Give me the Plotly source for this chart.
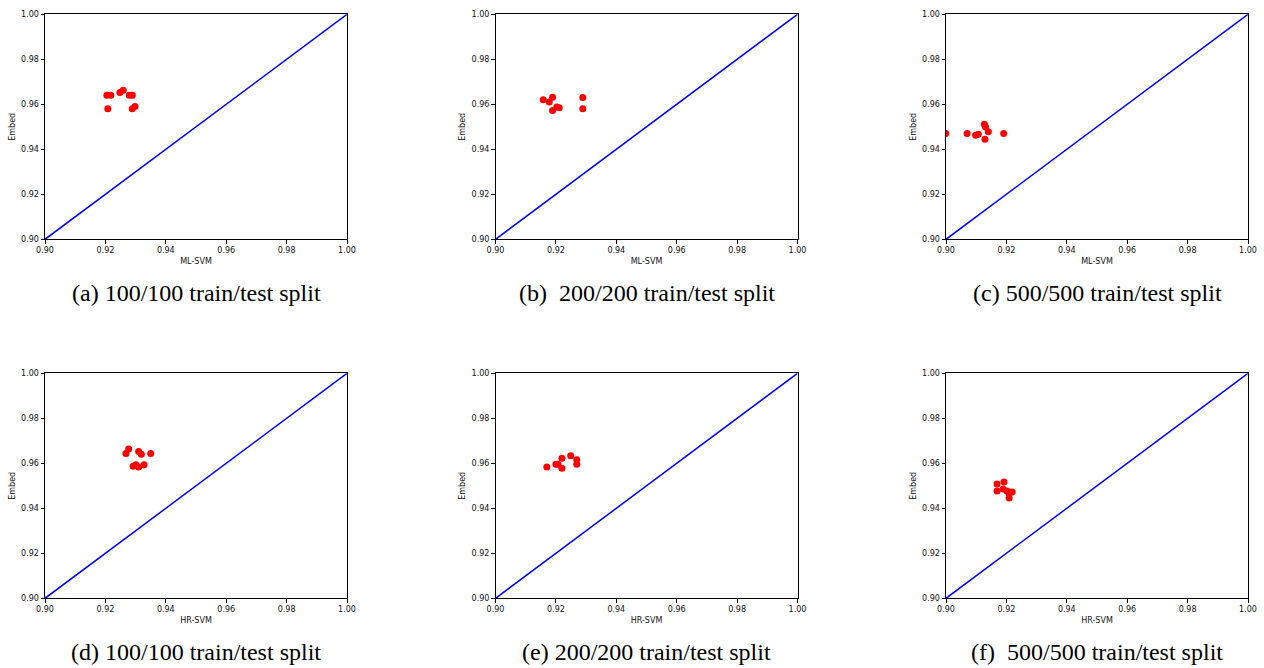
import plotly.graph_objects as go

# ---- data ----
a_x = [0.9205, 0.9218, 0.9248, 0.9259, 0.9279, 0.9289, 0.9208, 0.9289, 0.9298]
a_y = [0.964, 0.964, 0.9652, 0.9662, 0.964, 0.964, 0.958, 0.958, 0.959]

b_x = [0.9158, 0.9178, 0.9189, 0.9189, 0.9203, 0.9211, 0.9289, 0.9289]
b_y = [0.962, 0.961, 0.9631, 0.9572, 0.9588, 0.9585, 0.963, 0.958]

c_x = [0.8999, 0.907, 0.9098, 0.9107, 0.9127, 0.9131, 0.914, 0.9129, 0.9191]
c_y = [0.947, 0.947, 0.9462, 0.9467, 0.9511, 0.9499, 0.9478, 0.9445, 0.947]

d_x = [0.9277, 0.9268, 0.931, 0.9319, 0.935, 0.9292, 0.9301, 0.931, 0.9328]
d_y = [0.9664, 0.9643, 0.9652, 0.964, 0.9643, 0.9587, 0.9593, 0.9584, 0.9593]

e_x = [0.917, 0.920, 0.9207, 0.922, 0.922, 0.9249, 0.9269, 0.9269]
e_y = [0.9584, 0.9596, 0.9596, 0.9622, 0.9578, 0.9634, 0.9616, 0.9596]

f_x = [0.9169, 0.9169, 0.9192, 0.9189, 0.9202, 0.9209, 0.9209, 0.9219]
f_y = [0.9508, 0.9477, 0.9517, 0.9486, 0.9477, 0.9464, 0.9446, 0.9472]

diag = [0.9, 1.0]
ticks = [0.90, 0.92, 0.94, 0.96, 0.98, 1.00]
tick_text = ["0.90", "0.92", "0.94", "0.96", "0.98", "1.00"]

panels = [
    (a_x, a_y, "ML-SVM", "(a) 100/100 train/test split"),
    (b_x, b_y, "ML-SVM", "(b)  200/200 train/test split"),
    (c_x, c_y, "ML-SVM", "(c) 500/500 train/test split"),
    (d_x, d_y, "HR-SVM", "(d) 100/100 train/test split"),
    (e_x, e_y, "HR-SVM", "(e) 200/200 train/test split"),
    (f_x, f_y, "HR-SVM", "(f)  500/500 train/test split"),
]

W, H = 1264, 668
lefts = [45, 495.5, 946]
pw = 302
tops = [14.3, 373.3]
ph = 225
cap_y = [293, 652]

fig = go.Figure()
layout = dict(
    width=W, height=H, margin=dict(l=0, r=0, t=0, b=0, autoexpand=False),
    paper_bgcolor="white", plot_bgcolor="white", showlegend=False,
)
annotations = []
for i, (xs, ys, xt, cap) in enumerate(panels):
    r, c = divmod(i, 3)
    n = i + 1
    xa = "x" if n == 1 else f"x{n}"
    ya = "y" if n == 1 else f"y{n}"
    x0 = lefts[c] / W
    x1 = (lefts[c] + pw) / W
    y1 = 1 - tops[r] / H
    y0 = 1 - (tops[r] + ph) / H
    axis_common = dict(
        range=[0.9, 1.0], tickvals=ticks, ticktext=tick_text,
        showgrid=False, zeroline=False, showline=True, mirror=True,
        linecolor="black", linewidth=1, ticks="outside", ticklen=3.5,
        tickwidth=1, tickcolor="black", automargin=False,
        tickfont=dict(family="DejaVu Sans", size=8, color="#111"),
        fixedrange=True,
    )
    layout[f"xaxis{'' if n == 1 else n}"] = dict(
        axis_common, domain=[x0, x1], anchor=ya,
        title=dict(text=xt, standoff=3,
                   font=dict(family="DejaVu Sans", size=8, color="#111")),
    )
    layout[f"yaxis{'' if n == 1 else n}"] = dict(
        axis_common, domain=[y0, y1], anchor=xa,
        title=dict(text="Embed", standoff=4,
                   font=dict(family="DejaVu Sans", size=8, color="#111")),
    )
    fig.add_trace(go.Scatter(x=diag, y=diag, mode="lines",
                             line=dict(color="blue", width=1.5),
                             xaxis=xa, yaxis=ya, hoverinfo="skip"))
    fig.add_trace(go.Scatter(x=xs, y=ys, mode="markers",
                             marker=dict(color="red", size=7),
                             xaxis=xa, yaxis=ya))
    annotations.append(dict(
        text=cap, x=(lefts[c] + pw / 2) / W, y=1 - cap_y[r] / H,
        xref="paper", yref="paper", xanchor="center", yanchor="middle",
        showarrow=False,
        font=dict(family="Liberation Serif, Times New Roman, serif",
                  size=24, color="black"),
    ))

layout["annotations"] = annotations
fig.update_layout(**layout)
fig.write_html("out.html")
